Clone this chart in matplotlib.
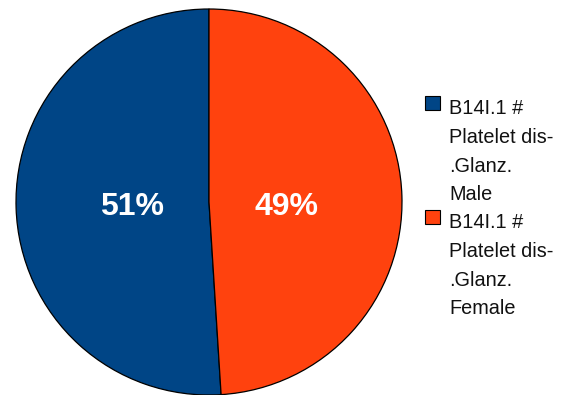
import matplotlib
matplotlib.use('Agg')
import matplotlib.pyplot as plt
from matplotlib.patches import Rectangle

# share of cases by sex
labels = ['B14I.1 #\nPlatelet dis-\n.Glanz.\nMale',
          'B14I.1 #\nPlatelet dis-\n.Glanz.\nFemale']
shares = [51, 49]
colors = ['#004586', '#ff420e']

plt.rcParams['font.family'] = ['Liberation Sans', 'DejaVu Sans']

W, H = 565, 395
fig = plt.figure(figsize=(W / 100, H / 100), dpi=100)

# pie centred at (209, 202) px, radius 193 px
cx, cy, r = 209, 202, 193
ax = fig.add_axes([(cx - r) / W, (H - cy - r) / H, 2 * r / W, 2 * r / H])
wedges, texts, autotexts = ax.pie(shares, colors=colors, startangle=90, counterclock=True,
                                  radius=1, autopct='%d%%', pctdistance=0.40,
                                  wedgeprops=dict(edgecolor='black', linewidth=0.9),
                                  textprops=dict(color='white', fontsize=23, fontweight='bold'))
# put both percentages on the same level, a bit below the centre
for t in autotexts:
    x, _ = t.get_position()
    t.set_position((x, -0.024))
ax.set_xlim(-1, 1)
ax.set_ylim(-1, 1)
ax.set_aspect('auto')
ax.axis('off')

# legend: square beside the first line of each multi-line label
line_h = 28.5
y0 = 96
for i, (lab, col) in enumerate(zip(labels, colors)):
    top = y0 + i * 4 * line_h
    fig.patches.append(Rectangle((425 / W, 1 - (top + 14) / H), 15 / W, 14 / H,
                                 transform=fig.transFigure, facecolor=col,
                                 edgecolor='black', linewidth=0.8))
    for j, line in enumerate(lab.split('\n')):
        base = top + 18.5 + j * line_h
        fig.text(449 / W, 1 - base / H, line, fontsize=14.3, color='#111111',
                 ha='left', va='baseline')

fig.savefig('out.png', dpi=100)
